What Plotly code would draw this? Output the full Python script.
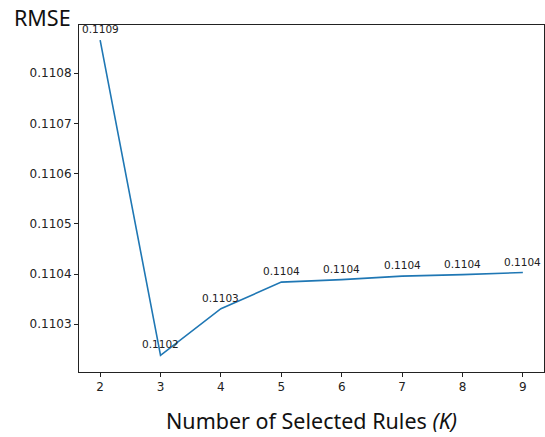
import plotly.graph_objects as go

# Number of selected rules and the resulting RMSE
k_values = [2, 3, 4, 5, 6, 7, 8, 9]
rmse = [0.110866, 0.110238, 0.110331, 0.110384, 0.110389, 0.110396, 0.110399, 0.110403]
y_ticks = [0.1103, 0.1104, 0.1105, 0.1106, 0.1107, 0.1108]

line_color = "#1f77b4"
axis_color = "#222222"
tick_font = dict(family="DejaVu Sans", size=12, color="#222222")
title_font = "Noto Sans"

fig = go.Figure()
fig.add_trace(go.Scatter(
    x=k_values, y=rmse, mode="lines",
    line=dict(color=line_color, width=1.6),
    showlegend=False, hoverinfo="skip",
))

# Value labels above each point
for k, v in zip(k_values, rmse):
    fig.add_annotation(
        x=k, y=v, text=f"{v:.4f}", showarrow=False,
        xanchor="center", yanchor="middle", yshift=11,
        font=dict(family="DejaVu Sans", size=10.5, color="#222222"),
    )

# Y-axis title placed horizontally at the top-left
fig.add_annotation(
    xref="paper", yref="paper", x=-0.145, y=1.022,
    xanchor="left", yanchor="middle", showarrow=False,
    text="RMSE", font=dict(family=title_font, size=21.5, color="#111111"),
)

axis_common = dict(
    showline=True, linecolor=axis_color, linewidth=1, mirror=True,
    ticks="outside", ticklen=4, tickwidth=1, tickcolor=axis_color,
    showgrid=False, zeroline=False, tickfont=tick_font,
)

fig.update_xaxes(
    range=[1.65, 9.35], tickvals=k_values, ticktext=[str(k) for k in k_values],
    title=dict(text="Number of Selected Rules <i>(K)</i>",
               font=dict(family=title_font, size=21.5, color="#111111"),
               standoff=20),
    **axis_common,
)
fig.update_yaxes(
    range=[0.110205, 0.110896], tickvals=y_ticks,
    ticktext=[f"{t:.4f}" for t in y_ticks],
    **axis_common,
)

fig.update_layout(
    width=545, height=437,
    margin=dict(l=79, r=1, t=25, b=65),
    paper_bgcolor="white", plot_bgcolor="white",
)

fig.write_html("out.html")
